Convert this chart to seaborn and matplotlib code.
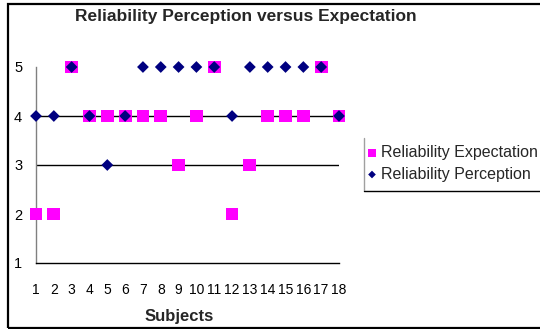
import matplotlib
matplotlib.use("Agg")
import matplotlib.pyplot as plt
from matplotlib.lines import Line2D
from matplotlib.patches import Rectangle
import pandas as pd
import seaborn as sns

# Survey scores per subject
subjects = list(range(1, 19))
expectation = [2, 2, 5, 4, 4, 4, 4, 4, 3, 4, 5, 2, 3, 4, 4, 4, 5, 4]
perception = [4, 4, 5, 4, 3, 4, 5, 5, 5, 5, 5, 4, 5, 5, 5, 5, 5, 4]
y_ticks = [1, 2, 3, 4, 5]
grid_levels = [3, 4]

sns.set_style("white")
plt.rcParams["font.family"] = ["Liberation Sans", "DejaVu Sans"]

W, H, DPI = 540, 329, 100
fig = plt.figure(figsize=(W / DPI, H / DPI), dpi=DPI)


def fx(px):
    return px / W


def fy(py):
    return 1 - py / H


ax = fig.add_axes([fx(36), fy(263), fx(339) - fx(36), fy(67) - fy(263)])

df = pd.DataFrame({"Subject": subjects,
                   "Expectation": expectation,
                   "Perception": perception})

sns.scatterplot(data=df, x="Subject", y="Expectation", marker="s", s=85,
                color="#FF00FF", edgecolor="none", linewidth=0, clip_on=False,
                zorder=3, ax=ax, label="Reliability Expectation")
sns.scatterplot(data=df, x="Subject", y="Perception", marker="D", s=36,
                color="#000080", edgecolor="none", linewidth=0, clip_on=False,
                zorder=4, ax=ax, label="Reliability Perception")

for lvl in grid_levels:
    ax.axhline(lvl, color="black", lw=1, zorder=1)

ax.set_xlim(1, 18)
ax.set_ylim(1, 5)
ax.set_xticks(subjects)
ax.set_yticks(y_ticks)
ax.set_xlabel("")
ax.set_ylabel("")

for side in ("top", "right"):
    ax.spines[side].set_visible(False)
ax.spines["left"].set_color("#808080")
ax.spines["left"].set_linewidth(1)
ax.spines["bottom"].set_color("black")
ax.spines["bottom"].set_linewidth(1)

ax.tick_params(axis="x", length=4, width=1, color="#A0A0A0", direction="out",
               pad=10.5, labelsize=10, labelcolor="black")
ax.tick_params(axis="y", length=5, width=1, color="black", direction="out",
               pad=5, labelsize=10.5, labelcolor="black")
for i, t in enumerate(ax.yaxis.get_major_ticks()):
    if y_ticks[i] in (2, 5):
        t.tick1line.set_visible(False)

fig.text(fx(246), fy(16), "Reliability Perception versus Expectation",
         ha="center", va="center", fontsize=12.5, fontweight="bold")
fig.text(fx(179), fy(316), "Subjects", ha="center", va="center",
         fontsize=12, fontweight="bold")

handles, labels = ax.get_legend_handles_labels()
ax.legend(handles, labels, loc="upper left",
          bbox_to_anchor=(fx(368), fy(145)), bbox_transform=fig.transFigure,
          frameon=False, markerscale=0.65, handlelength=0.5,
          handletextpad=0.3, borderaxespad=0, borderpad=0,
          labelspacing=0.42, fontsize=11.5)

# Legend box edges and chart border
fig.add_artist(Line2D([fx(364), fx(364)], [fy(138), fy(191)],
                      color="#A0A0A0", lw=1))
fig.add_artist(Line2D([fx(364), fx(545)], [fy(191), fy(191)],
                      color="black", lw=1))
fig.add_artist(Rectangle((fx(7.7), fy(327.5)), fx(560) - fx(7.7),
                         fy(4.3) - fy(327.5), fill=False,
                         edgecolor="black", lw=1.6,
                         transform=fig.transFigure))

fig.savefig("out.png", dpi=DPI)
